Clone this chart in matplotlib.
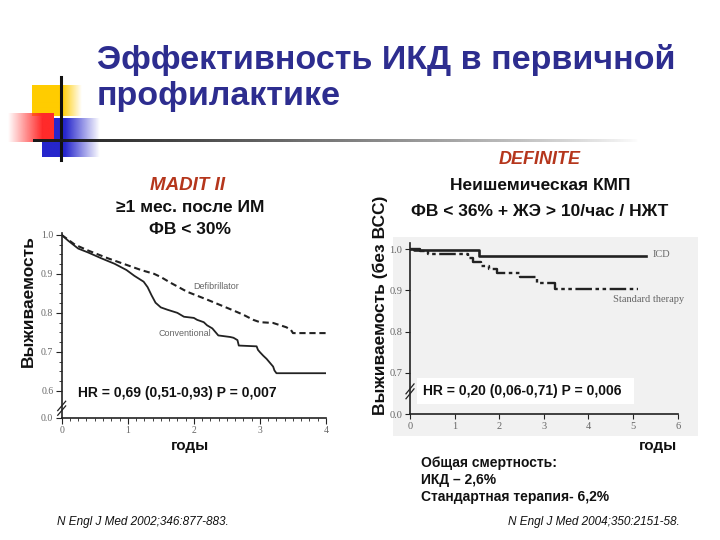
import numpy as np
import matplotlib
matplotlib.use("Agg")
import matplotlib.pyplot as plt
from matplotlib.patches import Rectangle
from matplotlib.ticker import FixedLocator, MultipleLocator

plt.rcParams['font.family'] = ['Liberation Sans', 'DejaVu Sans']

# ---------------- data ----------------
madit_defib_t = [0, 0.2, 0.4, 0.7, 1.0, 1.2, 1.4, 1.5, 1.65, 1.9, 2.2, 2.6, 2.75, 2.9, 3.0,
                 3.2, 3.4, 3.47, 3.5, 4.0]
madit_defib_s = [1.0, 0.975, 0.96, 0.94, 0.922, 0.91, 0.9, 0.892, 0.877, 0.854, 0.834, 0.806,
                 0.795, 0.782, 0.776, 0.774, 0.763, 0.756, 0.748, 0.748]
madit_conv_t = [0, 0.1, 0.25, 0.4, 0.6, 0.8, 0.98, 1.1, 1.24, 1.3, 1.36, 1.42, 1.5, 1.6, 1.75,
                1.8, 1.85, 2.0, 2.05, 2.15, 2.2, 2.28, 2.32, 2.37, 2.55, 2.6, 2.66, 2.68, 2.95,
                2.97, 3.0, 3.05, 3.1, 3.15, 3.2, 3.22, 3.25, 4.0]
madit_conv_s = [1.0, 0.985, 0.965, 0.955, 0.94, 0.926, 0.91, 0.895, 0.88, 0.866, 0.845, 0.826,
                0.814, 0.808, 0.8, 0.795, 0.79, 0.787, 0.782, 0.776, 0.768, 0.76, 0.752, 0.742,
                0.738, 0.736, 0.73, 0.716, 0.714, 0.705, 0.699, 0.69, 0.682, 0.672, 0.662,
                0.652, 0.645, 0.645]

def_icd_t = [0, 0.08, 1.55, 5.3]
def_icd_s = [1.0, 0.997, 0.984, 0.984]
def_std_t = [0, 0.22, 0.41, 1.31, 1.42, 1.6, 1.76, 1.94, 2.47, 2.84, 3.24, 5.1]
def_std_s = [1.0, 0.995, 0.988, 0.978, 0.968, 0.96, 0.953, 0.942, 0.932, 0.918, 0.903, 0.903]

madit_yticks = [0.53, 0.6, 0.7, 0.8, 0.9, 1.0]
madit_yticklabels = ["0.0", "0.6", "0.7", "0.8", "0.9", "1.0"]
madit_xticks = [0, 1, 2, 3, 4]
def_yticks = [0.6, 0.7, 0.8, 0.9, 1.0]
def_yticklabels = ["0.0", "0.7", "0.8", "0.9", "1.0"]
def_xticks = [0, 1, 2, 3, 4, 5, 6]

W, H = 720, 540
fig = plt.figure(figsize=(7.2, 5.4), dpi=100)
fig.patch.set_facecolor('white')

def fx(px):
    return px / W

def fy(py):
    return 1 - py / H

# decoration layer in pixel coordinates
deco = fig.add_axes([0, 0, 1, 1], zorder=0)
deco.axis('off')

def grad_rect(ax, x0, x1, y0, y1, color, solid_from, solid_to, direction='right'):
    n = 200
    xs = np.linspace(0, 1, n)
    if direction == 'right':   # solid at left part, fading to right
        a = np.clip((1 - xs) / max(1e-6, 1 - solid_to), 0, 1)
        a = np.where(xs <= solid_to, 1.0, a)
    else:                      # solid at right part, fading to left
        a = np.clip(xs / max(1e-6, solid_from), 0, 1)
        a = np.where(xs >= solid_from, 1.0, a)
    rgba = np.zeros((1, n, 4))
    rgb = matplotlib.colors.to_rgb(color)
    rgba[..., 0], rgba[..., 1], rgba[..., 2] = rgb
    rgba[..., 3] = a
    ax.imshow(rgba, extent=(x0, x1, y1, y0), aspect='auto', interpolation='bilinear', zorder=1)

grad_rect(deco, 32, 82, 85, 116, '#ffcc00', 0, 0.6, 'right')
grad_rect(deco, 42, 100, 118, 157, '#2626cc', 0, 0.4, 'right')
grad_rect(deco, 8, 54, 113, 142, '#ff2a2a', 0.75, 1, 'left')
deco.plot([61, 61], [77, 160], color='#111111', lw=2.2, zorder=3)
# fading horizontal rule
n = 300
xs = np.linspace(0, 1, n)
rgba = np.zeros((1, n, 4))
rgba[..., 3] = np.clip(1 - xs, 0, 1) ** 0.8
rgba[..., 0:3] = 0.1
deco.imshow(rgba, extent=(33, 640, 142.5, 139.5), aspect='auto', interpolation='bilinear', zorder=3)

# grey background of the DEFINITE figure
deco.add_patch(Rectangle((393, 237), 305, 199, color='#f1f1f1', zorder=0.5, lw=0))
# white box behind the HR text (right)
deco.add_patch(Rectangle((417, 378), 217, 26, color='white', zorder=0.6, lw=0))
deco.set_xlim(0, W)
deco.set_ylim(H, 0)

# ---------------- title ----------------
title_col = '#2d2d8f'
fig.text(fx(97), fy(69), "Эффективность ИКД в первичной", fontsize=24.5, fontweight='bold',
         color=title_col, ha='left', va='baseline')
fig.text(fx(97), fy(105), "профилактике", fontsize=24.5, fontweight='bold',
         color=title_col, ha='left', va='baseline')

red_col = '#b5361c'
fig.text(fx(188), fy(185), "MADIT II", fontsize=13.5, fontweight='bold', style='italic',
         color=red_col, ha='center', va='center')
fig.text(fx(190), fy(208), "≥1 мес. после ИМ", fontsize=12.5, fontweight='bold',
         color='#111111', ha='center', va='center')
fig.text(fx(190), fy(229), "ФВ < 30%", fontsize=12.5, fontweight='bold',
         color='#111111', ha='center', va='center')

fig.text(fx(540), fy(160), "DEFINITE", fontsize=13, fontweight='bold', style='italic',
         color=red_col, ha='center', va='center')
fig.text(fx(540), fy(186), "Неишемическая КМП", fontsize=12.5, fontweight='bold',
         color='#111111', ha='center', va='center')
fig.text(fx(540), fy(212), "ФВ < 36% + ЖЭ > 10/час / НЖТ", fontsize=12.5, fontweight='bold',
         color='#111111', ha='center', va='center')

fig.text(fx(28), fy(301), "Выживаемость", fontsize=12.5, fontweight='bold', rotation=90,
         color='#111111', ha='center', va='center')
fig.text(fx(380), fy(305), "Выживаемость (без ВСС)", fontsize=12.5, fontweight='bold',
         rotation=90, color='#111111', ha='center', va='center')

fig.text(fx(190), fy(446), "годы", fontsize=11, fontweight='bold', color='#111111',
         ha='center', va='center')
fig.text(fx(658), fy(446), "годы", fontsize=11, fontweight='bold', color='#111111',
         ha='center', va='center')

fig.text(fx(421), fy(463), "Общая смертность:", fontsize=10, fontweight='bold',
         color='#111111', ha='left', va='center')
fig.text(fx(421), fy(480), "ИКД – 2,6%", fontsize=10, fontweight='bold',
         color='#111111', ha='left', va='center')
fig.text(fx(421), fy(497), "Стандартная терапия- 6,2%", fontsize=10, fontweight='bold',
         color='#111111', ha='left', va='center')

fig.text(fx(57), fy(522), "N Engl J Med 2002;346:877-883.", fontsize=8.5, style='italic',
         color='#111111', ha='left', va='center')
fig.text(fx(680), fy(522), "N Engl J Med 2004;350:2151-58.", fontsize=8.5, style='italic',
         color='#111111', ha='right', va='center')

grey_txt = '#666666'

# ---------------- MADIT II axes ----------------
ax1 = fig.add_axes([fx(61.7), fy(418), (326 - 61.7) / W, (418 - 233) / H], zorder=2)
ax1.set_facecolor('none')
ax1.plot(madit_defib_t, madit_defib_s, color='#222222', lw=1.5, linestyle=(0, (3, 1.8)))
ax1.plot(madit_conv_t, madit_conv_s, color='#222222', lw=1.3)
ax1.set_xlim(0, 4)
ax1.set_ylim(0.53, 1.005)
ax1.set_yticks(madit_yticks)
ax1.set_yticklabels(madit_yticklabels)
ax1.set_xticks(madit_xticks)
ax1.xaxis.set_minor_locator(MultipleLocator(0.125))
ax1.yaxis.set_minor_locator(FixedLocator(list(np.arange(0.6, 1.0, 0.025))))
for s in ['top', 'right']:
    ax1.spines[s].set_visible(False)
for s in ['left', 'bottom']:
    ax1.spines[s].set_color('#222222')
    ax1.spines[s].set_linewidth(1.2)
ax1.tick_params(axis='both', which='major', labelsize=7, labelcolor=grey_txt, length=4,
                color='#222222', pad=2)
ax1.tick_params(axis='both', which='minor', length=2.5, color='#222222')
for lab in ax1.get_xticklabels() + ax1.get_yticklabels():
    lab.set_family(['Liberation Serif', 'DejaVu Serif'])
ax1.text(1.99, 0.867, "Defibrillator", fontsize=6.5, color=grey_txt, ha='left', va='center',
         family=['Liberation Sans', 'DejaVu Sans'])
ax1.text(1.46, 0.746, "Conventional", fontsize=6.5, color=grey_txt, ha='left', va='center',
         family=['Liberation Sans', 'DejaVu Sans'])
ax1.text(0.25, 0.595, "HR = 0,69 (0,51-0,93) P = 0,007", fontsize=10, fontweight='bold',
         color='#111111', ha='left', va='center')
# axis break marks
for dy in (-0.006, 0.006):
    ax1.plot([-0.06, 0.06], [0.555 + dy - 0.012, 0.555 + dy + 0.012], color='#222222',
             lw=0.9, clip_on=False)

# ---------------- DEFINITE axes ----------------
ax2 = fig.add_axes([fx(410), fy(414), (677.7 - 410) / W, (414 - 243) / H], zorder=2)
ax2.set_facecolor('none')
ax2.step(def_icd_t, def_icd_s, where='post', color='#222222', lw=1.9)
ax2.step(def_std_t, def_std_s, where='post', color='#222222', lw=1.7,
         linestyle=(0, (7, 1.5, 1.5, 1.5, 1.5, 1.5)))
ax2.set_xlim(0, 6)
ax2.set_ylim(0.6, 1.015)
ax2.set_yticks(def_yticks)
ax2.set_yticklabels(def_yticklabels)
ax2.set_xticks(def_xticks)
for s in ['top', 'right']:
    ax2.spines[s].set_visible(False)
for s in ['left', 'bottom']:
    ax2.spines[s].set_color('#222222')
    ax2.spines[s].set_linewidth(1.2)
ax2.tick_params(axis='both', which='major', labelsize=7.5, labelcolor=grey_txt, length=3.5,
                color='#222222', pad=2)
for lab in ax2.get_xticklabels() + ax2.get_yticklabels():
    lab.set_family(['Liberation Serif', 'DejaVu Serif'])
ax2.text(5.44, 0.986, "ICD", fontsize=7.5, color=grey_txt, ha='left', va='center',
         family=['Liberation Serif', 'DejaVu Serif'])
ax2.text(4.56, 0.878, "Standard therapy", fontsize=7.5, color=grey_txt, ha='left', va='center',
         family=['Liberation Serif', 'DejaVu Serif'])
ax2.text(0.3, 0.655, "HR = 0,20 (0,06-0,71) P = 0,006", fontsize=10, fontweight='bold',
         color='#111111', ha='left', va='center')
for dy in (-0.006, 0.006):
    ax2.plot([-0.09, 0.09], [0.655 + dy - 0.012, 0.655 + dy + 0.012], color='#222222',
             lw=0.9, clip_on=False)

fig.savefig("out.png", dpi=100, facecolor='white')
